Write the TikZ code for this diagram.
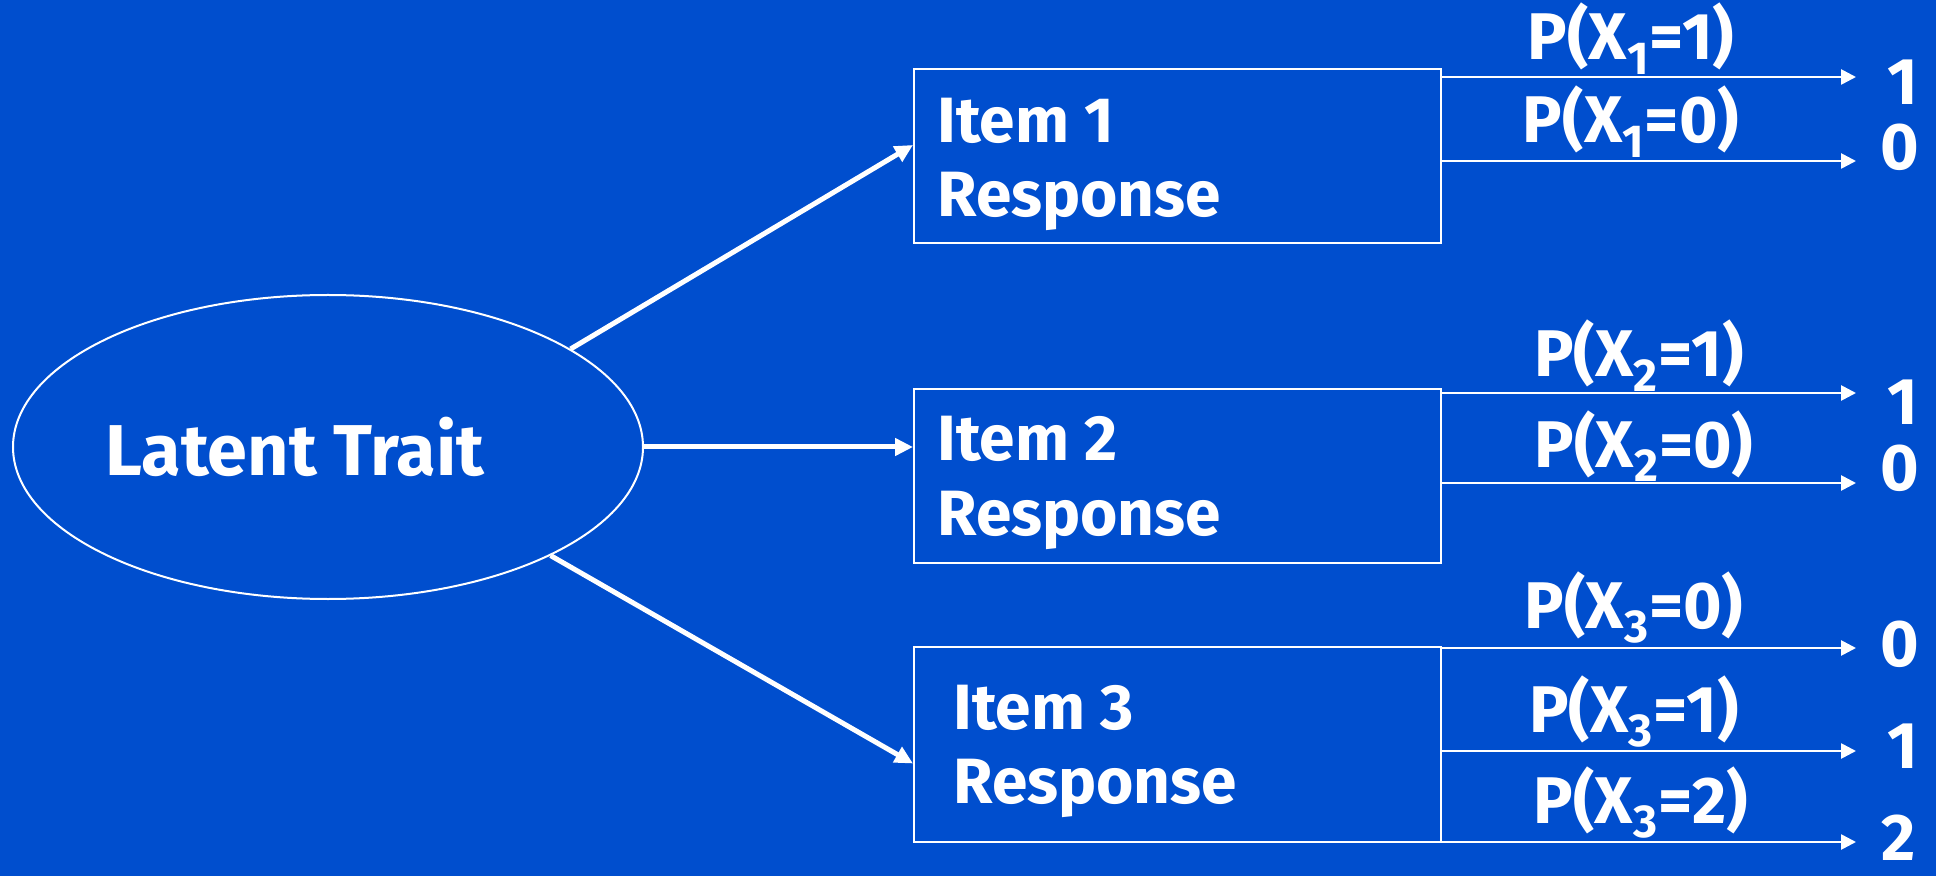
\documentclass[tikz,border=0pt]{standalone}
\usepackage{fontspec}
\setmainfont{Fira Sans}
\usepackage{tikz}
\usetikzlibrary{arrows.meta,shapes.geometric}
\definecolor{slideblue}{RGB}{0,78,206}

\begin{document}
\begin{tikzpicture}[x=0.5pt,y=-0.5pt]
	\fill[slideblue] (0,0) rectangle (1936,876);
	\useasboundingbox (0,0) rectangle (1936,876);

	% trait and item boxes
	\node[ellipse,draw=white,line width=1pt,inner sep=0pt,
	      minimum width=315pt,minimum height=152pt] (trait) at (328,447) {};
	\node[text=white,anchor=base,font=\bfseries\fontsize{36}{40}\selectfont] (traitlbl) at (295,475) {Latent Trait};

	\begin{scope}[every node/.style={rectangle,draw=white,line width=1pt,inner sep=0pt,minimum width=263.5pt}]
	    \node[minimum height=87pt] (item1) at (1177.5,156) {};
	    \node[minimum height=87pt] (item2) at (1177.5,476) {};
	    \node[minimum height=97.5pt] (item3) at (1177.5,744.5) {};
	\end{scope}

	% base of the last line
	\begin{scope}[every node/.style={text=white,anchor=base west,align=left,inner sep=0pt,
	              font=\bfseries\fontsize{32}{37}\selectfont}]
	    \node (item1lbl) at (937,217) {Item 1\\Response};
	    \node (item2lbl) at (937,535) {Item 2\\Response};
	    \node (item3lbl) at (953,803) {Item 3\\Response};
	\end{scope}

	% outcome ends
	\coordinate (a11) at (1856,77);
	\coordinate (a10) at (1856,161);
	\coordinate (a21) at (1856,393);
	\coordinate (a20) at (1856,483);
	\coordinate (a30) at (1856,648);
	\coordinate (a31) at (1856,751);
	\coordinate (a32) at (1856,842);

	\begin{scope}[every node/.style={text=white,anchor=base,inner sep=0pt,
	              font=\bfseries\fontsize{33}{37}\selectfont}]
	    \node (p11) at (1631,60) {P(X\textsubscript{1}=1)};
	    \node (p10) at (1631,143) {P(X\textsubscript{1}=0)};
	    \node (p21) at (1639,377) {P(X\textsubscript{2}=1)};
	    \node (p20) at (1644,467) {P(X\textsubscript{2}=0)};
	    \node (p30) at (1634,628) {P(X\textsubscript{3}=0)};
	    \node (p31) at (1634,732) {P(X\textsubscript{3}=1)};
	    \node (p32) at (1641,823) {P(X\textsubscript{3}=2)};
	    \node (o11) at (1903,105) {1};
	    \node (o10) at (1900,170) {0};
	    \node (o21) at (1903,425) {1};
	    \node (o20) at (1900,490) {0};
	    \node (o30) at (1900,666) {0};
	    \node (o31) at (1903,768) {1};
	    \node (o32) at (1899,860) {2};
	\end{scope}

	\begin{scope}[>={Triangle[length=9pt,width=8.5pt]},line width=2.5pt,draw=white]
	    \draw[->] (trait.22.5) -- ([yshift=5.5pt]item1.west);
	    \draw[->] (trait.east) -- (trait.east -| item2.west);
	    \draw[->] (trait.-26) -- ([yshift=-9.5pt]item3.west);
	\end{scope}

	\begin{scope}[>={Triangle[length=7.5pt,width=7.5pt]},line width=1.3pt,draw=white]
	    \draw[->] (item1.east |- a11) -- (a11);
	    \draw[->] (item1.east |- a10) -- (a10);
	    \draw[->] (item2.east |- a21) -- (a21);
	    \draw[->] (item2.east |- a20) -- (a20);
	    \draw[->] (item3.east |- a30) -- (a30);
	    \draw[->] (item3.east |- a31) -- (a31);
	    \draw[->] (item3.east |- a32) -- (a32);
	\end{scope}
\end{tikzpicture}
\end{document}
